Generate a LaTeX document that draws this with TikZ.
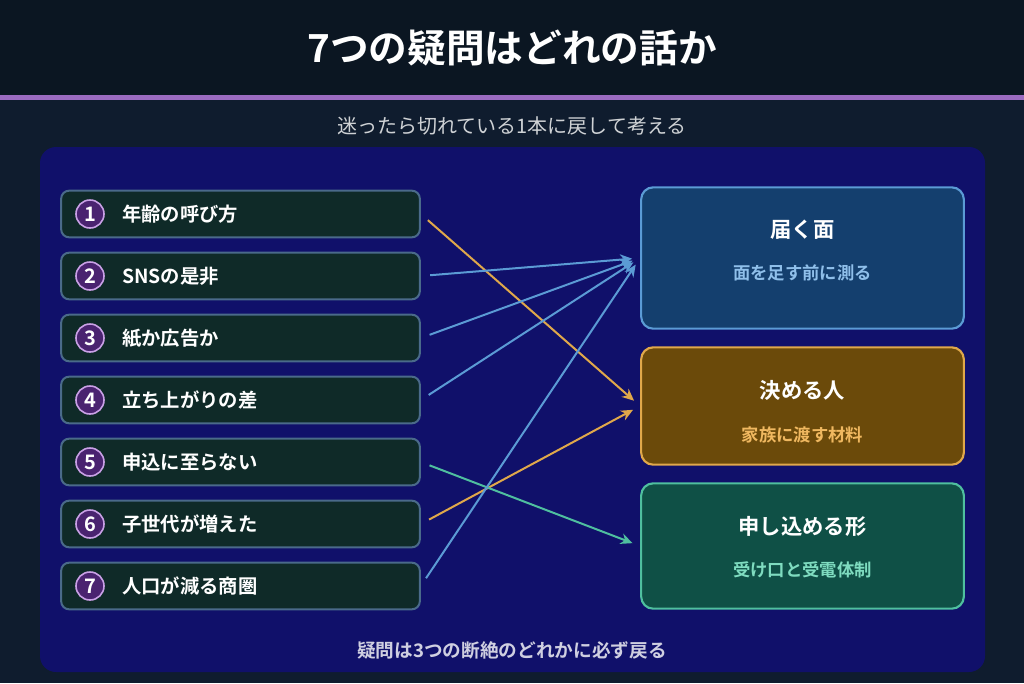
\documentclass[tikz,border=0pt]{standalone}
\usepackage{fontspec}
\setmainfont{Noto Sans CJK JP}[BoldFont={* Bold}]
\usetikzlibrary{positioning,arrows.meta}
\definecolor{topbg}{HTML}{0B1622}
\definecolor{pagebg}{HTML}{0F1C2E}
\definecolor{bar}{HTML}{9B6BC0}
\definecolor{panel}{HTML}{10106A}
\definecolor{itemfill}{HTML}{0F2A28}
\definecolor{itemline}{HTML}{4A6A8A}
\definecolor{numfill}{HTML}{4A2370}
\definecolor{numline}{HTML}{C9A0E6}
\definecolor{reachfill}{HTML}{143F6E}
\definecolor{reachline}{HTML}{5B9BD5}
\definecolor{reachtxt}{HTML}{8FBFEA}
\definecolor{decfill}{HTML}{6B4A0A}
\definecolor{decline}{HTML}{E0A84A}
\definecolor{dectxt}{HTML}{F0B860}
\definecolor{formfill}{HTML}{0F5046}
\definecolor{formline}{HTML}{4FBF9F}
\definecolor{formtxt}{HTML}{7FDCC0}
\tikzset{
  item/.style={draw=itemline,line width=1.5pt,fill=itemfill,rounded corners=6pt,
    minimum width=269pt,minimum height=35pt,inner sep=0pt},
  num/.style={circle,draw=numline,line width=1.2pt,fill=numfill,minimum size=21pt,
    inner sep=0pt,text=white,font=\bfseries\fontsize{15}{15}\selectfont},
  itxt/.style={anchor=west,inner sep=0pt,text=white,font=\bfseries\fontsize{14.5}{14.5}\selectfont},
  goal/.style={line width=1.6pt,rounded corners=9pt,minimum width=242pt,inner sep=0pt},
  gtitle/.style={text=white,font=\bfseries\fontsize{16}{16}\selectfont},
  gsub/.style={font=\bfseries\fontsize{13}{13}\selectfont},
  link/.style={line width=1.5pt,-{Stealth[length=9pt,width=8pt]},shorten <=7pt,shorten >=6pt}
}
\begin{document}
\begin{tikzpicture}[x=0.75pt,y=-0.75pt]
  \fill[pagebg] (0,0) rectangle (1024,683);
  \fill[topbg] (0,0) rectangle (1024,95);
  \fill[bar] (0,95) rectangle (1024,100);
  \node[text=white,font=\bfseries\fontsize{29}{29}\selectfont] (title) at (512,48) {7つの疑問はどれの話か};
  \node[text=white!80!pagebg,font=\fontsize{15}{15}\selectfont] (sub) at (512,126) {迷ったら切れている1本に戻して考える};
  \fill[panel,rounded corners=12pt] (40,147) rectangle (985,672);

  % questions
  \foreach \i/\y/\t in {1/214/年齢の呼び方,2/276/SNSの是非,3/338/紙か広告か,4/400/立ち上がりの差,
      5/462/申込に至らない,6/524/子世代が増えた,7/586/人口が減る商圏}{
    \node[item] (q\i) at (240.5,\y) {};
    \node[num] (n\i) at (90,\y) {\i};
    \node[itxt] (t\i) at (122,\y) {\t};
  }

  % answers
  \node[goal,draw=reachline,fill=reachfill,minimum height=106pt] (reach) at (802.5,258) {};
  \node[gtitle] (reachT) at (802.5,230) {届く面};
  \node[gsub,text=reachtxt] (reachS) at (802.5,273) {面を足す前に測る};
  \node[goal,draw=decline,fill=decfill,minimum height=88pt] (dec) at (802.5,406) {};
  \node[gtitle] (decT) at (802.5,390) {決める人};
  \node[gsub,text=dectxt] (decS) at (802.5,435) {家族に渡す材料};
  \node[goal,draw=formline,fill=formfill,minimum height=94pt] (form) at (802.5,546) {};
  \node[gtitle] (formT) at (802.5,526) {申し込める形};
  \node[gsub,text=formtxt] (formS) at (802.5,570) {受け口と受電体制};

  \draw[link,decline] (q1.east) -- (dec.west);
  \draw[link,decline] (q6.east) -- (dec.west);
  \draw[link,formline] (q5.east) -- (form.west);
  \foreach \i in {2,3,4,7}
    \draw[link,reachline] (q\i.east) -- (reach.west);

  \node[text=white!80!panel,font=\bfseries\fontsize{14}{14}\selectfont] (foot) at (512,650) {疑問は3つの断絶のどれかに必ず戻る};
\end{tikzpicture}
\end{document}
